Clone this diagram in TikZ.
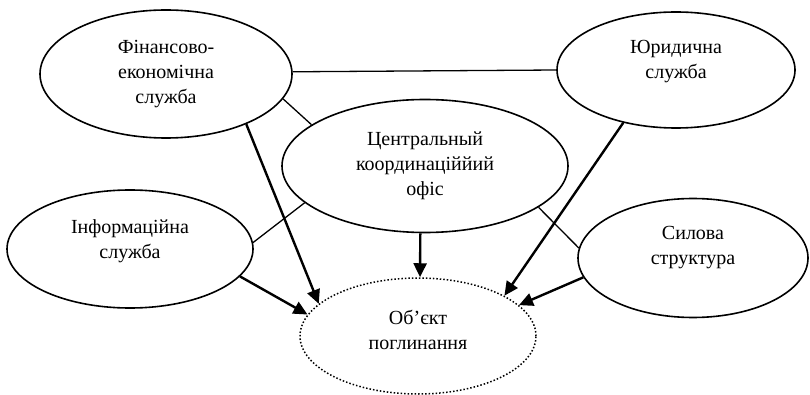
\documentclass[tikz,border=0pt]{standalone}
\usepackage{fontspec}
\setmainfont{Liberation Serif}
\usetikzlibrary{shapes,arrows.meta}

\begin{document}
\begin{tikzpicture}[
    x=1pt, y=-1pt,
    unit/.style={ellipse, draw, line width=1.6pt, inner sep=0pt},
    target/.style={ellipse, draw, dotted, line width=1.5pt, inner sep=0pt},
    txt/.style={align=center, font=\fontsize{20}{25}\selectfont},
    link/.style={line width=1.3pt},
    flow/.style={line width=2.4pt, -{Triangle[length=14pt,width=13pt]}}
]
\useasboundingbox (0,0) rectangle (810,395);

% Services
\node[unit, minimum width=252pt, minimum height=128pt, label={[txt]center:{Фінансово-\\економічна\\служба}}] (fin) at (166,74) {};
\node[unit, minimum width=238pt, minimum height=116pt, label={[txt, yshift=8pt]center:{Юридична\\служба}}] (jur) at (676,70) {};
\node[unit, minimum width=286pt, minimum height=133pt, label={[txt]center:{Центральный\\координаціййий\\офіс}}] (ctr) at (425,166) {};
\node[unit, minimum width=246pt, minimum height=118pt, label={[txt, yshift=8pt]center:{Інформаційна\\служба}}] (inf) at (130,249) {};
\node[unit, minimum width=230pt, minimum height=119pt, label={[txt, yshift=10pt]center:{Силова\\структура}}] (sil) at (693,258) {};

% Target
\node[target, minimum width=236pt, minimum height=116pt, label={[txt, yshift=6pt]center:{Об’єкт\\поглинання}}] (obj) at (418,336) {};

% Links
\draw[link] (fin.1) -- (jur.180);
\draw[link] (fin.-12) -- (ctr.160);
\draw[link] (inf.3) -- (ctr.197);
\draw[link] (ctr.-20) -- (sil.175);

% Arrows to target
\draw[flow] (fin.-32) -- (obj.162);
\draw[flow] (inf.-14) -- (obj.169);
\draw[flow] (ctr.266) -- (obj.88);
\draw[flow] (jur.225) -- (obj.25);
\draw[flow] (sil.190) -- (obj.17);

\end{tikzpicture}
\end{document}
